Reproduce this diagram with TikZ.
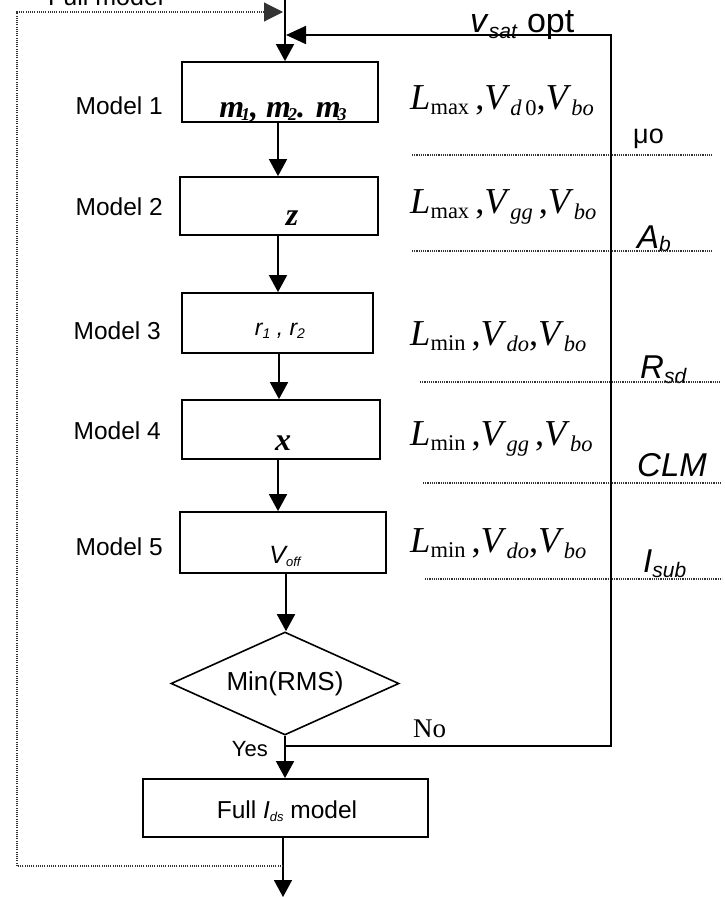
\documentclass[tikz,border=0pt]{standalone}
\usepackage{fontspec}
\setmainfont{Liberation Serif}
\setsansfont{Liberation Sans}
\usetikzlibrary{arrows.meta,shapes.geometric}
\newcommand\fs[1]{\fontsize{#1}{#1}\selectfont}
\newcommand\dn[3]{\raisebox{-#1pt}{\fs{#2}#3}}
\newcommand\ml[3]{\textit{L}\dn{5}{22.5}{#1}\,,\textit{V}\dn{6}{22.5}{#2}#3,\textit{V}\dn{6}{22.5}{\textit{bo}}}
\begin{document}
\begin{tikzpicture}[x=1pt,y=-1pt,
  box/.style={draw,line width=1.8pt,rectangle,inner sep=0pt},
  arr/.style={line width=1.8pt,-{Triangle[length=17pt,width=18pt]}},
  solidln/.style={line width=1.8pt},
  dotln/.style={line width=1.1pt,black!80,dash pattern=on 1.1pt off 1.1pt},
  dotarr/.style={dotln,-{Triangle[length=19pt,width=19pt]}},
  modl/.style={font=\sffamily\fs{24.5},anchor=base east,inner sep=0pt},
  mth/.style={font=\fs{36.5},anchor=base west,inner sep=0pt},
  rlab/.style={font=\sffamily\fs{33},anchor=base west,inner sep=0pt},
  btxt/.style={anchor=base,inner sep=0pt}]
\useasboundingbox (0,0) rectangle (724,897);

% boxes
\node[box,minimum width=196pt,minimum height=60pt] (B1) at (280,92) {};
\node[box,minimum width=198pt,minimum height=58pt] (B2) at (279,206) {};
\node[box,minimum width=191pt,minimum height=60pt] (B3) at (277.5,323) {};
\node[box,minimum width=198pt,minimum height=59pt] (B4) at (281,429.5) {};
\node[box,minimum width=206pt,minimum height=61pt] (B5) at (283,542.5) {};
\node[draw,diamond,line width=1.6pt,minimum width=228pt,minimum height=103pt,inner sep=0pt,aspect=2.2,font=\sffamily\fs{26}] (D) at (285,683.5) {Min(RMS)};
\node[box,minimum width=285pt,minimum height=58pt] (B6) at (285.5,808) {};

% box texts
\node[btxt,font=\fs{32}\bfseries\itshape] (T1) at (283,117) {m\kern-3pt\dn{3}{18}{1}, m\kern-3pt\dn{3}{18}{2}. m\kern-3pt\dn{3}{18}{3}};
\node[btxt,font=\fs{32}\bfseries\itshape] (T2) at (292,225) {z};
\node[btxt,font=\sffamily\itshape\fs{23}] (T3) at (280,335) {r\dn{3}{14}{1} , r\dn{3}{14}{2}};
\node[btxt,font=\fs{32}\bfseries\itshape] (T4) at (283,450) {x};
\node[btxt,font=\sffamily\itshape\fs{25}] (T5) at (285,563) {V\dn{3}{13}{off}};
\node[btxt,font=\sffamily\fs{24.5}] (T6) at (287,818) {Full \textit{I}\dn{3}{13}{\textit{ds}} model};

% model labels
\node[modl] (M1) at (163,114) {Model 1};
\node[modl] (M2) at (163,215) {Model 2};
\node[modl] (M3) at (161,339) {Model 3};
\node[modl] (M4) at (161,439) {Model 4};
\node[modl] (M5) at (163,555) {Model 5};
\node[font=\sffamily\fs{25},anchor=base west,inner sep=0pt] (FM) at (48,5) {Full model};

% math labels
\node[mth] (E1) at (410,109) {\ml{max}{\textit{d}\,0}{}};
\node[mth] (E2) at (410,213) {\ml{max}{\textit{gg}}{\,}};
\node[mth] (E3) at (410,345) {\ml{min}{\textit{do}}{}};
\node[mth] (E4) at (410,445) {\ml{min}{\textit{gg}}{\,}};
\node[mth] (E5) at (410,552) {\ml{min}{\textit{do}}{}};

% right labels
\node[font=\sffamily\fs{34},anchor=base west,inner sep=0pt] (VS) at (470,32) {\textit{v}\dn{6}{21}{\textit{sat}} opt};
\node[font=\sffamily\fs{27},anchor=base west,inner sep=0pt] (R1) at (633,143) {μo};
\node[rlab] (R2) at (637,248) {\textit{A}\dn{3}{21}{\textit{b}}};
\node[rlab] (R3) at (640,378) {\textit{R}\dn{5}{21}{\textit{sd}}};
\node[rlab] (R4) at (637,476) {\textit{CLM}};
\node[rlab] (R5) at (643,572) {\textit{I}\dn{5}{21}{\textit{sub}}};

% dotted separators
\coordinate (s1a) at (412,155); \coordinate (s1b) at (712,155);
\coordinate (s2a) at (412,251); \coordinate (s2b) at (712,251);
\coordinate (s3a) at (420,382); \coordinate (s3b) at (720,382);
\coordinate (s4a) at (423,483); \coordinate (s4b) at (722,483);
\coordinate (s5a) at (425,579); \coordinate (s5b) at (722,579);
\foreach \i in {1,...,5} {\draw[dotln] (s\i a) -- (s\i b);}

% connectors
\coordinate (top) at (285,-5);
\draw[arr] (top) -- (B1.north -| top);
\draw[arr] ([xshift=-2pt]B1.south) -- ([xshift=-2pt]B1.south |- B2.north);
\draw[arr] ([xshift=-1pt]B2.south) -- ([xshift=-1pt]B2.south |- B3.north);
\draw[arr] ([xshift=1.5pt]B3.south) -- ([xshift=1.5pt]B3.south |- B4.north);
\draw[arr] ([xshift=-3pt]B4.south) -- ([xshift=-3pt]B4.south |- B5.north);
\draw[arr] ([xshift=3pt]B5.south) -- ([xshift=3pt]B5.south |- D.north);
\draw[arr] (D.south) -- (D.south |- B6.north);
\coordinate (out) at (283,897);
\draw[arr] ([xshift=-2.5pt]B6.south) -- (out);

% No feedback loop
\coordinate (J) at (286,746);
\coordinate (fbR) at (611,746);
\coordinate (fbT) at (611,35);
\coordinate (fbE) at (286,35);
\draw[solidln,-{Triangle[length=20pt,width=18pt]}] (J) -- (fbR) -- (fbT) -- (fbE);
\node[font=\fs{27},anchor=base west,inner sep=0pt] (NO) at (413,737) {No};
\node[font=\sffamily\fs{22},anchor=base east,inner sep=0pt] (YES) at (268,756) {Yes};

% dotted full-model loop
\coordinate (d0) at (283,866);
\coordinate (d1) at (17,866);
\coordinate (d2) at (17,12);
\coordinate (d3) at (283,12);
\draw[dotarr] (d0) -- (d1) -- (d2) -- (d3);
\end{tikzpicture}
\end{document}
